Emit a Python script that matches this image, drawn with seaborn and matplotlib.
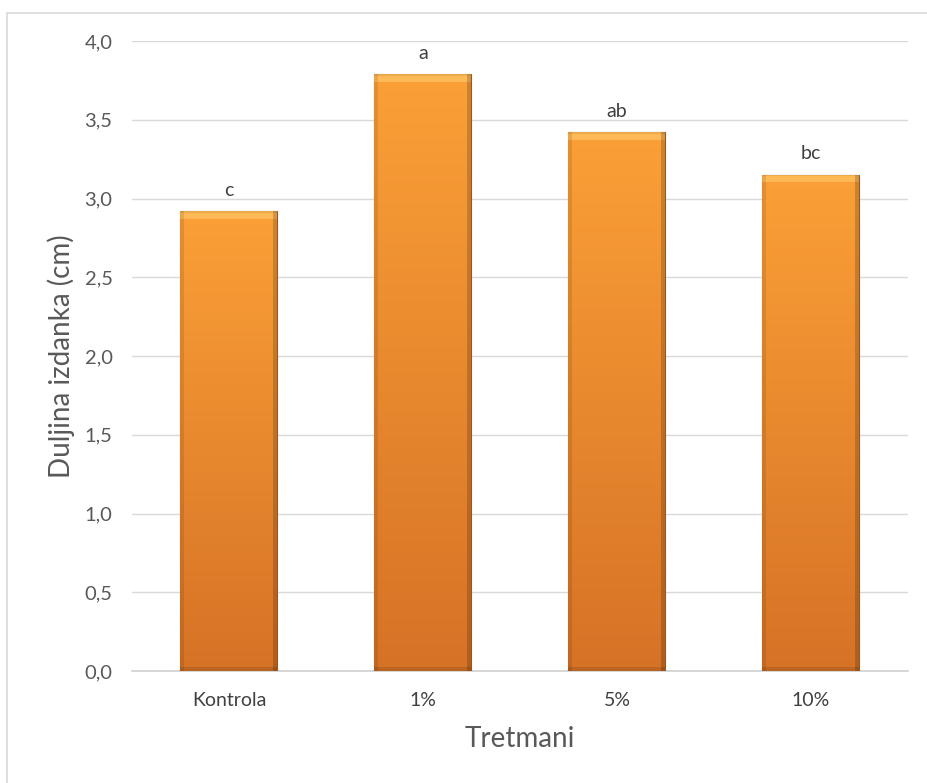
import numpy as np
import pandas as pd
import matplotlib.pyplot as plt
import matplotlib.patches as mpatches
import seaborn as sns

tretmani = ['Kontrola', '1%', '5%', '10%']
duljina = [2.92, 3.79, 3.42, 3.15]
slova = ['c', 'a', 'ab', 'bc']

df = pd.DataFrame({'Tretmani': tretmani, 'Duljina': duljina})

sns.set_style('white')
plt.rcParams['font.family'] = ['Lato', 'DejaVu Sans']

fig = plt.figure(figsize=(9.27, 7.83), dpi=100)
ax = fig.add_axes([0.1424, 0.143, 0.837, 0.8046])

sns.barplot(data=df, x='Tretmani', y='Duljina', width=0.5, color='#F08A2C',
            edgecolor='#9C561C', linewidth=0.8, ax=ax, zorder=3)

ax.set_ylim(0, 4)
ax.set_xlim(-0.5, 3.5)
yt = np.arange(0, 4.01, 0.5)
ax.set_yticks(yt)
ax.set_yticklabels([f'{v:.1f}'.replace('.', ',') for v in yt], fontsize=14.5, color='#595959')
ax.tick_params(axis='y', length=0, pad=14)
ax.tick_params(axis='x', length=0, pad=15, labelsize=14, labelcolor='#404040')
ax.grid(axis='y', color='#D9D9D9', linewidth=1, zorder=0)
ax.set_axisbelow(True)
for s in ['top', 'right', 'left']:
    ax.spines[s].set_visible(False)
ax.spines['bottom'].set_color('#D0D0D0')
ax.spines['bottom'].set_linewidth(1.2)

ax.set_ylabel('Duljina izdanka (cm)', fontsize=20, color='#595959')
ax.set_xlabel('Tretmani', fontsize=20, color='#595959')
ax.yaxis.set_label_coords(-0.074, 0.5)
ax.xaxis.set_label_coords(0.5, -0.087)

# gradient fill with bevel for each bar
px_per_unit = 157.5
top_c = np.array([251, 160, 55]) / 255
bot_c = np.array([214, 114, 38]) / 255
for p in ax.patches:
    x0, y0 = p.get_x(), p.get_y()
    w, h = p.get_width(), p.get_height()
    rows = max(int(h * px_per_unit), 10)
    cols = 98
    t = np.linspace(0, 1, rows)[:, None]
    img = top_c[None, None, :] * (1 - t[..., None]) + bot_c[None, None, :] * t[..., None]
    img = np.repeat(img, cols, axis=1)
    # bevel: light top band, darker sides and bottom
    img[:8, :, :] = np.clip(img[:8, :, :] + np.array([0.02, 0.1, 0.12]), 0, 1)
    img[:2, :, :] = img[:2, :, :] * 0.92
    img[:, :4, :] *= 0.9
    img[:, -4:, :] *= 0.82
    img[-4:, :, :] *= 0.88
    im = ax.imshow(img, extent=[x0, x0 + w, y0, y0 + h], aspect='auto',
                   origin='upper', zorder=3.5, interpolation='bilinear')
    im.set_clip_path(p)

ax.set_xlim(-0.5, 3.5)
ax.set_ylim(0, 4)

for i, (v, s) in enumerate(zip(duljina, slova)):
    ax.annotate(s, (i, v), xytext=(0, 9), textcoords='offset points',
                ha='center', va='bottom', fontsize=14, color='#404040')

# outer frame (left and top edges)
fig.patches.append(mpatches.Rectangle((7 / 927, -0.1), 1.2, 1 - 13 / 783 + 0.1,
                                      transform=fig.transFigure, fill=False,
                                      edgecolor='#D9D9D9', linewidth=1.2))

fig.savefig('out.png', dpi=100)
